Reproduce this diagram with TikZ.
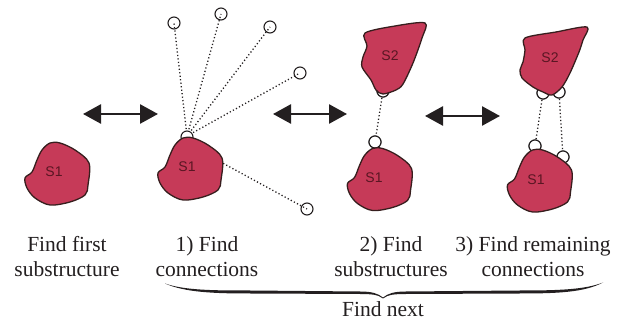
\documentclass[tikz,border=0pt]{standalone}
\usepackage{fontspec}
\setmainfont{Liberation Serif}
\setsansfont{Liberation Sans}
\usetikzlibrary{arrows.meta}
\definecolor{blobfill}{RGB}{198,58,88}
\definecolor{blobline}{RGB}{55,30,30}
\definecolor{blobtext}{RGB}{90,22,35}
\definecolor{ink}{RGB}{35,31,32}
\newcommand\shapeSone{(-7,-30) (3,-30) (18,-23) (32,-10) (31,12) (28,22) (13,29) (-7,32) (-22,25) (-30,15) (-32,5) (-25,-1) (-20,-13) (-15,-23)}
\tikzset{
  blob/.style={fill=blobfill, draw=blobline, line width=1.3pt, line join=round},
  blabel/.style={text=blobtext, font=\sffamily\fontsize{14}{14}\selectfont},
  conn/.style={circle, draw=ink, line width=1.1pt, minimum size=12pt, inner sep=0pt},
  hubc/.style={circle, draw=ink, fill=white, line width=1.1pt, minimum size=12pt, inner sep=0pt},
  dots/.style={draw=ink, line width=1.3pt, dash pattern=on 1.2pt off 2.3pt},
  bigarrow/.style={draw=ink, line width=2.6pt, {Triangle[length=18pt,width=19pt]}-{Triangle[length=18pt,width=19pt]}},
  lbl/.style={align=center, text=ink, font=\fontsize{21.5}{25}\selectfont},
}
\begin{document}
\begin{tikzpicture}[x=1pt,y=-1pt]
\useasboundingbox (0,0) rectangle (619,320);

% panel 0
\begin{scope}[shift={(57,173)}]
  \draw[blob] plot[smooth cycle, tension=0.55] coordinates {\shapeSone};
\end{scope}
\node[blabel] (s1a) at (54,172) {S1};

% panel 1
\node[conn] (c1) at (174,23) {};
\node[conn] (c2) at (221,14) {};
\node[conn] (c3) at (270,27) {};
\node[conn] (c4) at (300,73) {};
\node[conn] (c5) at (307,209) {};
\coordinate (hubin) at (187,136);
\coordinate (edge5) at (217,160);
\foreach \c in {c1,c2,c3,c4} \draw[dots] (hubin) -- (\c.center);
\draw[dots] (edge5) -- (c5.center);
\node[hubc] (hub) at (187,137) {};
\begin{scope}[shift={(190,168)}]
  \draw[blob] plot[smooth cycle, tension=0.55] coordinates {\shapeSone};
\end{scope}
\node[blabel] (s1b) at (187,167) {S1};

% panel 2
\node[hubc] (d2) at (383,91) {};
\node[hubc] (d1) at (375,142) {};
\draw[dots] (d2.center) -- (d1.center);
\node[hubc] at (383,91) {};
\node[hubc] at (375,142) {};
\draw[blob] plot[smooth cycle, tension=0.5] coordinates {(365,33) (395,26) (425,23) (422,38) (413,63) (403,84) (396,90) (383,94) (376,90) (371,80) (362,67) (363,57) (367,46)};
\node[blabel] (s2c) at (390,56) {S2};
\begin{scope}[shift={(379.5,178.5)}]
  \draw[blob] plot[smooth cycle, tension=0.55] coordinates {\shapeSone};
\end{scope}
\node[blabel] (s1c) at (374,178) {S1};

% panel 3
\node[hubc] (e1) at (543,93) {};
\node[hubc] (e2) at (559,92) {};
\node[hubc] (f1) at (535,146) {};
\node[hubc] (f2) at (563,157) {};
\draw[dots] (e1.center) -- (f1.center);
\draw[dots] (e2.center) -- (f2.center);
\node[hubc] at (543,93) {};
\node[hubc] at (559,92) {};
\node[hubc] at (535,146) {};
\node[hubc] at (563,157) {};
\draw[blob] plot[smooth cycle, tension=0.5] coordinates {(525,38) (556,32) (587,27) (583,40) (579,52) (570,73) (562,87) (552,95) (543,92) (533,87) (522,78) (520,70) (523,62) (525,50)};
\node[blabel] (s2d) at (550,58) {S2};
\begin{scope}[shift={(539.5,180)}]
  \draw[blob] plot[smooth cycle, tension=0.55] coordinates {\shapeSone};
\end{scope}
\node[blabel] (s1d) at (536,180) {S1};

% arrows
\coordinate (a1l) at (83,114);
\coordinate (a1r) at (158,114);
\coordinate (a2l) at (273,114);
\coordinate (a2r) at (347,114);
\coordinate (a3l) at (425,116);
\coordinate (a3r) at (500,116);
\draw[bigarrow] (a1l) -- (a1r);
\draw[bigarrow] (a2l) -- (a2r);
\draw[bigarrow] (a3l) -- (a3r);

% labels
\node[lbl] (t0) at (67,257) {Find first\\substructure};
\node[lbl] (t1) at (207,257) {1) Find\\connections};
\node[lbl] (t2) at (391,257) {2) Find\\substructures};
\node[lbl] (t3) at (533,257) {3) Find remaining\\connections};

% brace
\begin{scope}[yshift=-1.5pt]
\fill[ink] (165,282) .. controls (185,289) and (215,289) .. (250,289) -- (360,290) .. controls (372,290) and (378,292) .. (383,296) .. controls (388,292) and (394,290) .. (406,290) -- (520,289) .. controls (560,289) and (585,288) .. (603,281) .. controls (585,290.5) and (560,292) .. (520,292) -- (406,292.5) .. controls (395,292.5) and (388,293) .. (383,297) .. controls (378,293) and (371,292.5) .. (360,292.5) -- (250,292) .. controls (215,292) and (185,291) .. cycle;
\end{scope}
\node[lbl, inner sep=0pt] (tn) at (383,309) {Find next};
\end{tikzpicture}
\end{document}
